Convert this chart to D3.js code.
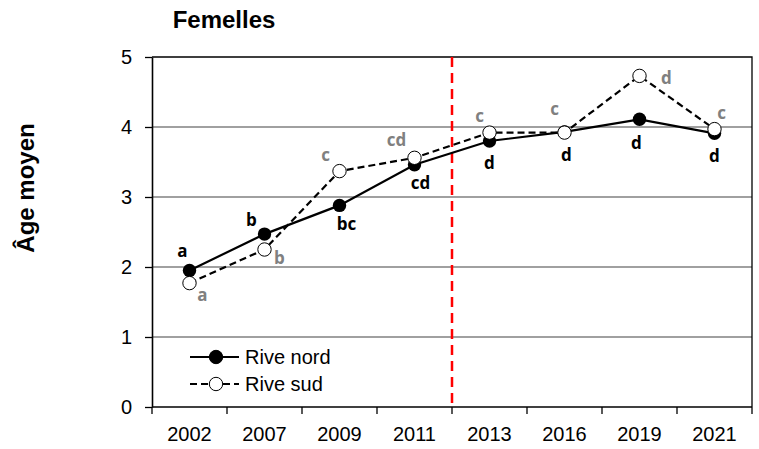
<!DOCTYPE html>
<html>
<head>
<meta charset="utf-8">
<script src="https://cdn.jsdelivr.net/npm/d3@7"></script>
<style>
  body { margin: 0; background: #fff; }
  svg { display: block; font-family: 'Liberation Sans', Arial, sans-serif; }
</style>
</head>
<body>
<svg id="chart" width="759" height="449"></svg>
<script>
'use strict'

const years = ['2002', '2007', '2009', '2011', '2013', '2016', '2019', '2021']
const riveNord = [1.95, 2.47, 2.88, 3.46, 3.80, 3.93, 4.11, 3.91]
const riveSud = [1.77, 2.25, 3.37, 3.56, 3.92, 3.92, 4.73, 3.97]
const lettersNord = ['a', 'b', 'bc', 'cd', 'd', 'd', 'd', 'd']
const lettersSud = ['a', 'b', 'c', 'cd', 'c', 'c', 'd', 'c']
const yTicks = [0, 1, 2, 3, 4, 5]
const splitAfter = '2011'

// label offsets from each point (layout only)
const offNord = [[-7, -19], [-13, -14], [7, 19], [6, 18], [0, 22], [2, 23], [-3, 24], [0, 23]]
const offSud = [[13, 12], [15, 9], [-14, -16], [-18, -18], [-10, -17], [-10, -24], [27, 2], [7, -16]]

let svg = d3.select('#chart')
let margin = { top: 57, right: 7, bottom: 42, left: 152 }
let width = 759 - margin.left - margin.right
let height = 449 - margin.top - margin.bottom

let g = svg.append('g').attr('transform', `translate(${margin.left}, ${margin.top})`)

let x = d3.scaleBand().domain(years).range([0, width])
let y = d3.scaleLinear().domain([0, 5]).range([height, 0])
let cx = d => x(d) + x.bandwidth() / 2

// gridlines
g.append('g')
    .selectAll('line')
    .data(yTicks.filter(t => t > 0 && t < 5))
    .enter()
    .append('line')
    .attr('x1', 0).attr('x2', width)
    .attr('y1', d => y(d)).attr('y2', d => y(d))
    .attr('stroke', '#808080').attr('stroke-width', 1.4)

// frame top + right
g.append('path')
    .attr('d', `M0,${y(5)}H${width}V${height}`)
    .attr('fill', 'none').attr('stroke', '#000').attr('stroke-width', 1.3)

// y axis
let yAxis = g.append('g')
    .call(d3.axisLeft(y).tickValues(yTicks).tickFormat(d3.format('d')).tickSize(7).tickSizeOuter(0))
yAxis.select('.domain').attr('stroke-width', 1.6)
yAxis.selectAll('line').attr('stroke-width', 1.3)
yAxis.selectAll('text').attr('font-size', '20px').attr('x', -20).attr('fill', '#000')

// x axis: ticks at band boundaries
let xAxis = g.append('g').attr('transform', `translate(0, ${height})`)
xAxis.append('line').attr('x1', 0).attr('x2', width).attr('stroke', '#000').attr('stroke-width', 1.6)
xAxis.selectAll('line.tk')
    .data(years.concat(['end']))
    .enter()
    .append('line')
    .attr('class', 'tk')
    .attr('x1', (d, i) => i * x.step()).attr('x2', (d, i) => i * x.step())
    .attr('y1', 0).attr('y2', 7)
    .attr('stroke', '#000').attr('stroke-width', 1.3)
xAxis.selectAll('text')
    .data(years)
    .enter()
    .append('text')
    .attr('x', d => cx(d))
    .attr('y', 34)
    .attr('text-anchor', 'middle')
    .attr('font-size', '20px')
    .text(d => d)

// red dashed separator
let sx = x(splitAfter) + x.step()
g.append('line')
    .attr('x1', sx).attr('x2', sx)
    .attr('y1', y(5)).attr('y2', height)
    .attr('stroke', '#ff0000').attr('stroke-width', 2.5)
    .attr('stroke-dasharray', '10,6')

let line = d3.line().x((d, i) => cx(years[i])).y(d => y(d))

// Rive nord
g.append('path').datum(riveNord)
    .attr('d', line).attr('fill', 'none')
    .attr('stroke', '#000').attr('stroke-width', 2.2)
g.selectAll('circle.nord').data(riveNord).enter().append('circle')
    .attr('class', 'nord')
    .attr('cx', (d, i) => cx(years[i])).attr('cy', d => y(d)).attr('r', 6.7)
    .attr('fill', '#000')

// Rive sud
g.append('path').datum(riveSud)
    .attr('d', line).attr('fill', 'none')
    .attr('stroke', '#000').attr('stroke-width', 2.2).attr('stroke-dasharray', '7,4')
g.selectAll('circle.sud').data(riveSud).enter().append('circle')
    .attr('class', 'sud')
    .attr('cx', (d, i) => cx(years[i])).attr('cy', d => y(d)).attr('r', 6.7)
    .attr('fill', '#fff').attr('stroke', '#000').attr('stroke-width', 1)

// significance letters
let letterFont = "'Open Sans', 'Noto Sans', sans-serif"
g.selectAll('text.ln').data(riveNord).enter().append('text')
    .attr('class', 'ln')
    .attr('x', (d, i) => cx(years[i]) + offNord[i][0])
    .attr('y', (d, i) => y(d) + offNord[i][1])
    .attr('dy', '0.35em')
    .attr('text-anchor', 'middle')
    .attr('font-family', letterFont).attr('font-weight', 'bold').attr('font-size', '17px')
    .attr('fill', '#000')
    .text((d, i) => lettersNord[i])
g.selectAll('text.ls').data(riveSud).enter().append('text')
    .attr('class', 'ls')
    .attr('x', (d, i) => cx(years[i]) + offSud[i][0])
    .attr('y', (d, i) => y(d) + offSud[i][1])
    .attr('dy', '0.35em')
    .attr('text-anchor', 'middle')
    .attr('font-family', letterFont).attr('font-weight', 'bold').attr('font-size', '17px')
    .attr('fill', '#808080')
    .text((d, i) => lettersSud[i])

// legend
let legend = g.append('g').attr('transform', 'translate(38, 300)')
let items = [{ name: 'Rive nord', fill: '#000', dash: null }, { name: 'Rive sud', fill: '#fff', dash: '7,4' }]
let li = legend.selectAll('g').data(items).enter().append('g')
    .attr('transform', (d, i) => `translate(0, ${i * 27})`)
li.append('line').attr('x1', 0).attr('x2', 49).attr('stroke', '#000').attr('stroke-width', 2.2)
    .attr('stroke-dasharray', d => d.dash)
li.append('circle').attr('cx', 26).attr('r', 6.7).attr('fill', d => d.fill)
    .attr('stroke', '#000').attr('stroke-width', 1)
li.append('text').attr('x', 55).attr('dy', '0.36em').attr('font-size', '20px').text(d => d.name)

// title + y label
svg.append('text').attr('x', 224).attr('y', 28)
    .attr('text-anchor', 'middle').attr('font-weight', 'bold').attr('font-size', '24px')
    .text('Femelles')
svg.append('text').attr('transform', 'translate(34, 188) rotate(-90)')
    .attr('text-anchor', 'middle').attr('font-weight', 'bold').attr('font-size', '24px')
    .text('Âge moyen')
</script>
</body>
</html>
